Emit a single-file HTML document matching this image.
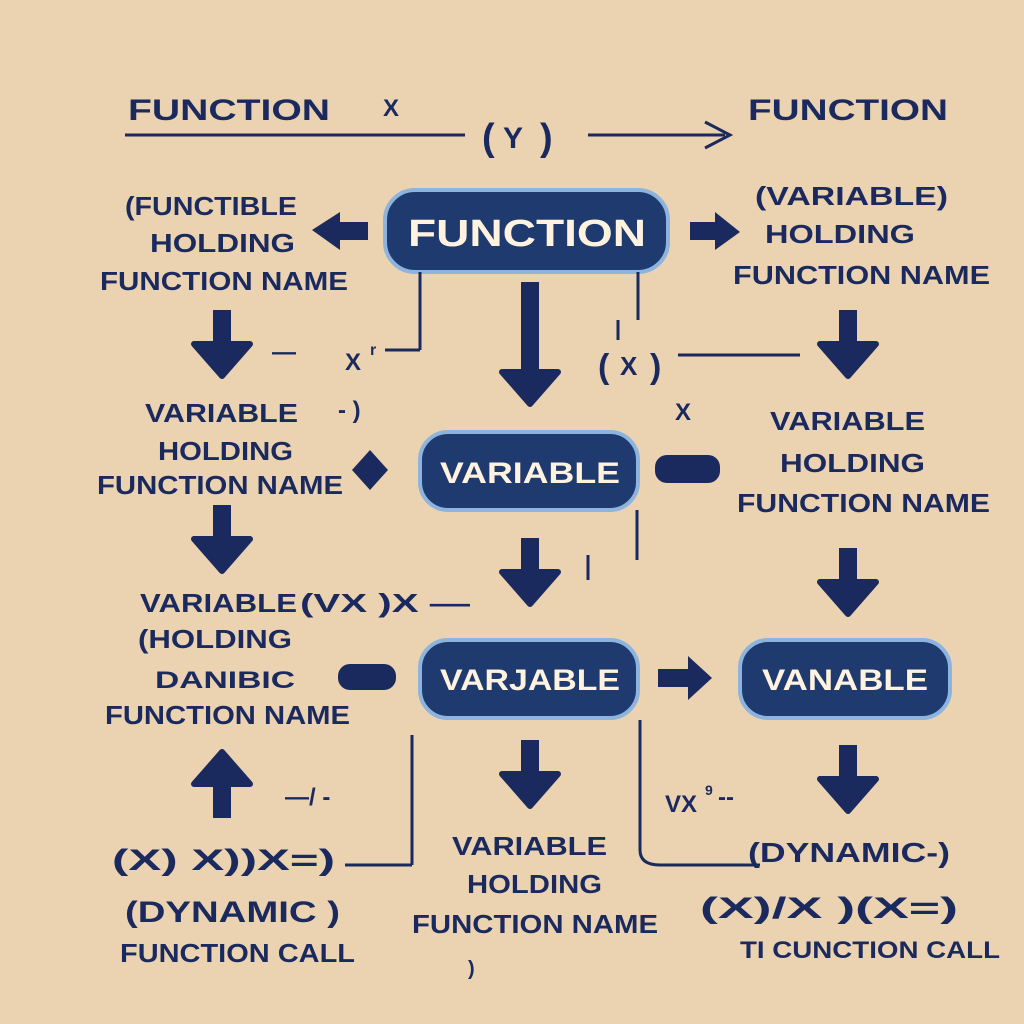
<!DOCTYPE html>
<html><head><meta charset="utf-8"><style>
html,body{margin:0;padding:0;background:#ebd3b1;}
svg{display:block}
text{font-family:"Liberation Sans",sans-serif;font-weight:bold;fill:#1b2a5e;}
.p{fill:#fff3df;}
</style></head><body>
<svg width="1024" height="1024" viewBox="0 0 1024 1024" xmlns="http://www.w3.org/2000/svg">
<defs>
<g id="da"><rect x="-9" y="0" width="18" height="40" fill="#1b2a5e"/><polygon points="-28,34 28,34 0,66" fill="#1b2a5e" stroke="#1b2a5e" stroke-width="6" stroke-linejoin="round"/></g>
</defs>
<rect width="1024" height="1024" fill="#ebd3b1"/>
<!-- top row -->
<text x="128" y="120" font-size="30" textLength="202" lengthAdjust="spacingAndGlyphs">FUNCTION</text>
<text x="383" y="116" font-size="24">X</text>
<line x1="125" y1="135" x2="465" y2="135" stroke="#1b2a5e" stroke-width="3"/>
<text x="482" y="150" font-size="38" font-weight="normal">(</text><text x="503" y="148" font-size="30">Y</text><text x="540" y="150" font-size="38" font-weight="normal">)</text>
<line x1="588" y1="135" x2="725" y2="135" stroke="#1b2a5e" stroke-width="3"/>
<polyline points="705,122 730,135 705,148" fill="none" stroke="#1b2a5e" stroke-width="3"/>
<text x="748" y="120" font-size="30" textLength="200" lengthAdjust="spacingAndGlyphs">FUNCTION</text>
<!-- left block 1 -->
<text x="125" y="215" font-size="26" textLength="172" lengthAdjust="spacingAndGlyphs">(FUNCTIBLE</text>
<text x="150" y="252" font-size="26" textLength="145" lengthAdjust="spacingAndGlyphs">HOLDING</text>
<text x="100" y="290" font-size="26" textLength="248" lengthAdjust="spacingAndGlyphs">FUNCTION NAME</text>
<path d="M312,230 L340,212 L340,222 L368,222 L368,240 L340,240 L340,250 Z" fill="#1b2a5e"/>
<!-- FUNCTION pill -->
<rect x="385" y="190" width="283" height="82" rx="30" fill="#1e3a6e" stroke="#8db3df" stroke-width="4"/>
<text x="408" y="246" font-size="38" textLength="238" lengthAdjust="spacingAndGlyphs" class="p">FUNCTION</text>
<line x1="420" y1="272" x2="420" y2="350" stroke="#1b2a5e" stroke-width="3"/>
<line x1="420" y1="350" x2="385" y2="350" stroke="#1b2a5e" stroke-width="3"/>
<line x1="638" y1="272" x2="638" y2="320" stroke="#1b2a5e" stroke-width="3"/>
<line x1="618" y1="320" x2="618" y2="340" stroke="#1b2a5e" stroke-width="3"/>
<!-- right top -->
<path d="M690,230 L715,212 L715,222 L740,222 L740,240 L715,240 L715,250 Z" fill="#1b2a5e" transform="rotate(180 715 231)"/>
<text x="755" y="205" font-size="26" textLength="193" lengthAdjust="spacingAndGlyphs">(VARIABLE)</text>
<text x="765" y="243" font-size="26" textLength="150" lengthAdjust="spacingAndGlyphs">HOLDING</text>
<text x="733" y="284" font-size="26" textLength="257" lengthAdjust="spacingAndGlyphs">FUNCTION NAME</text>
<!-- arrows row 1 -->
<use href="#da" x="222" y="310"/>
<rect x="521" y="282" width="18" height="60" fill="#1b2a5e"/>
<use href="#da" x="530" y="338"/>
<use href="#da" x="848" y="310"/>
<text x="272" y="360" font-size="24">—</text><text x="345" y="370" font-size="24">X</text><text x="370" y="355" font-size="16">r</text>
<text x="598" y="378" font-size="34" font-weight="normal">(</text><text x="620" y="375" font-size="26">X</text><text x="650" y="378" font-size="34" font-weight="normal">)</text>
<line x1="678" y1="355" x2="800" y2="355" stroke="#1b2a5e" stroke-width="3"/>
<text x="675" y="420" font-size="24">X</text>
<text x="338" y="418" font-size="24">- )</text>
<!-- left block 2 -->
<text x="145" y="422" font-size="26" textLength="153" lengthAdjust="spacingAndGlyphs">VARIABLE</text>
<text x="158" y="460" font-size="26" textLength="135" lengthAdjust="spacingAndGlyphs">HOLDING</text>
<text x="97" y="494" font-size="26" textLength="246" lengthAdjust="spacingAndGlyphs">FUNCTION NAME</text>
<polygon points="352,470 370,450 388,470 370,490" fill="#1b2a5e"/>
<!-- VARIABLE pill -->
<rect x="420" y="432" width="218" height="78" rx="28" fill="#1e3a6e" stroke="#8db3df" stroke-width="4"/>
<text x="440" y="483" font-size="30" textLength="180" lengthAdjust="spacingAndGlyphs" class="p">VARIABLE</text>
<rect x="655" y="455" width="65" height="28" rx="12" fill="#1b2a5e"/>
<line x1="637" y1="510" x2="637" y2="560" stroke="#1b2a5e" stroke-width="3"/>
<text x="770" y="430" font-size="26" textLength="155" lengthAdjust="spacingAndGlyphs">VARIABLE</text>
<text x="780" y="472" font-size="26" textLength="145" lengthAdjust="spacingAndGlyphs">HOLDING</text>
<text x="737" y="512" font-size="26" textLength="253" lengthAdjust="spacingAndGlyphs">FUNCTION NAME</text>
<!-- arrows row 2 -->
<use href="#da" x="222" y="505"/>
<use href="#da" x="530" y="538"/>
<use href="#da" x="848" y="548"/>
<line x1="588" y1="555" x2="588" y2="580" stroke="#1b2a5e" stroke-width="3"/>
<!-- left block 3 -->
<text x="140" y="612" font-size="26" textLength="157" lengthAdjust="spacingAndGlyphs">VARIABLE</text>
<text x="300" y="612" font-size="26" textLength="170" lengthAdjust="spacingAndGlyphs">(VX )X  —</text>
<text x="138" y="648" font-size="26" textLength="154" lengthAdjust="spacingAndGlyphs">(HOLDING</text>
<text x="155" y="688" font-size="24" textLength="140" lengthAdjust="spacingAndGlyphs">DANIBIC</text>
<text x="105" y="724" font-size="26" textLength="245" lengthAdjust="spacingAndGlyphs">FUNCTION NAME</text>
<rect x="338" y="664" width="58" height="26" rx="12" fill="#1b2a5e"/>
<!-- VARJABLE pill -->
<rect x="420" y="640" width="218" height="78" rx="28" fill="#1e3a6e" stroke="#8db3df" stroke-width="4"/>
<text x="440" y="690" font-size="30" textLength="180" lengthAdjust="spacingAndGlyphs" class="p">VARJABLE</text>
<path d="M658,669 L688,669 L688,656 L712,678 L688,700 L688,687 L658,687 Z" fill="#1b2a5e"/>
<!-- VANABLE pill -->
<rect x="740" y="640" width="210" height="78" rx="28" fill="#1e3a6e" stroke="#8db3df" stroke-width="4"/>
<text x="762" y="690" font-size="30" textLength="166" lengthAdjust="spacingAndGlyphs" class="p">VANABLE</text>
<!-- arrows row 3 -->
<use href="#da" x="530" y="740"/>
<use href="#da" x="848" y="745"/>
<g transform="rotate(180 222 785)"><use href="#da" x="222" y="752"/></g>
<line x1="412" y1="735" x2="412" y2="865" stroke="#1b2a5e" stroke-width="3"/>
<line x1="412" y1="865" x2="345" y2="865" stroke="#1b2a5e" stroke-width="3"/>
<line x1="640" y1="720" x2="640" y2="850" stroke="#1b2a5e" stroke-width="3"/>
<path d="M640,850 Q640,865 660,865 L760,865" fill="none" stroke="#1b2a5e" stroke-width="3"/>
<text x="285" y="805" font-size="24">—/ -</text>
<text x="665" y="812" font-size="24">VX</text><text x="705" y="795" font-size="14">9</text><text x="718" y="805" font-size="24">--</text>
<!-- bottom -->
<text x="112" y="870" font-size="30" textLength="223" lengthAdjust="spacingAndGlyphs">(X)  X))X=)</text>
<text x="125" y="922" font-size="30" textLength="215" lengthAdjust="spacingAndGlyphs">(DYNAMIC )</text>
<text x="120" y="962" font-size="26" textLength="235" lengthAdjust="spacingAndGlyphs">FUNCTION CALL</text>
<text x="452" y="855" font-size="26" textLength="155" lengthAdjust="spacingAndGlyphs">VARIABLE</text>
<text x="467" y="893" font-size="26" textLength="135" lengthAdjust="spacingAndGlyphs">HOLDING</text>
<text x="412" y="933" font-size="26" textLength="246" lengthAdjust="spacingAndGlyphs">FUNCTION NAME</text>
<text x="468" y="975" font-size="20">)</text>
<text x="748" y="862" font-size="28" textLength="202" lengthAdjust="spacingAndGlyphs">(DYNAMIC-)</text>
<text x="700" y="918" font-size="30" textLength="258" lengthAdjust="spacingAndGlyphs">(X)/X )(X=)</text>
<text x="740" y="958" font-size="24" textLength="260" lengthAdjust="spacingAndGlyphs">TI CUNCTION CALL</text>
</svg>
</body></html>
